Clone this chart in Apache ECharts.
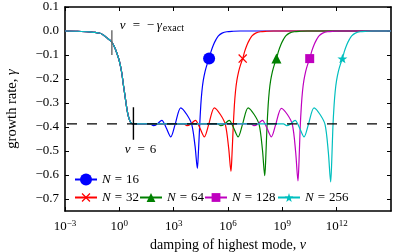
<!DOCTYPE html>
<html><head><meta charset="utf-8">
<script src="https://cdn.jsdelivr.net/npm/echarts@6/dist/echarts.min.js"></script>
<style>html,body{margin:0;padding:0;background:#fff}#c{width:407px;height:252px}</style>
</head><body><div id="c"></div>
<script>
// ---- data (log10 of nu, and gamma) ----
const headLogNu = [-3, -2.3, -1.619, -1.343, -1.066, -0.884, -0.696, -0.514, -0.42, -0.293, -0.144, 0.0, 0.133, 0.221, 0.315, 0.409, 0.497, 0.591, 0.685, 0.773];
const headGamma = [0, -0.001, -0.004, -0.0054, -0.0096, -0.0166, -0.0277, -0.0388, -0.0458, -0.0625, -0.0904, -0.125, -0.174, -0.223, -0.271, -0.320, -0.355, -0.376, -0.3855, -0.387];

const n16LogNu = [1.70, 1.878, 2.083, 2.343, 2.58, 2.84, 3.077, 3.392, 3.724, 4.0, 4.182, 4.309, 4.365, 4.431, 4.497, 4.558, 4.635, 4.735, 4.845, 4.956, 5.066, 5.193, 5.343, 5.470, 5.674, 5.934, 6.282, 6.669, 15];
const n16Gamma = [-0.387, -0.394, -0.388, -0.372, -0.402, -0.441, -0.390, -0.320, -0.348, -0.390, -0.480, -0.573, -0.506, -0.402, -0.310, -0.252, -0.206, -0.168, -0.139, -0.115, -0.085, -0.058, -0.035, -0.020, -0.009, -0.003, -0.001, 0, 0];

const n32LogNu = [3.555, 3.733, 3.938, 4.198, 4.435, 4.695, 4.932, 5.247, 5.579, 5.855, 6.037, 6.164, 6.22, 6.286, 6.352, 6.413, 6.49, 6.59, 6.70, 6.811, 6.921, 7.048, 7.198, 7.325, 7.529, 7.789, 8.137, 8.524, 15];
const n32Gamma = [-0.387, -0.394, -0.388, -0.372, -0.402, -0.441, -0.390, -0.320, -0.348, -0.390, -0.488, -0.585, -0.516, -0.402, -0.310, -0.252, -0.206, -0.168, -0.139, -0.115, -0.085, -0.058, -0.035, -0.020, -0.009, -0.003, -0.001, 0, 0];

const n64LogNu = [5.42, 5.598, 5.803, 6.063, 6.30, 6.56, 6.797, 7.112, 7.444, 7.72, 7.902, 8.029, 8.085, 8.151, 8.217, 8.278, 8.355, 8.455, 8.565, 8.676, 8.786, 8.913, 9.063, 9.19, 9.394, 9.654, 10.002, 10.389, 15];
const n64Gamma = [-0.387, -0.394, -0.388, -0.372, -0.402, -0.441, -0.390, -0.320, -0.348, -0.390, -0.495, -0.603, -0.530, -0.402, -0.310, -0.252, -0.206, -0.168, -0.139, -0.115, -0.085, -0.058, -0.035, -0.020, -0.009, -0.003, -0.001, 0, 0];

const n128LogNu = [7.255, 7.433, 7.638, 7.898, 8.135, 8.395, 8.632, 8.947, 9.279, 9.555, 9.737, 9.864, 9.92, 9.986, 10.052, 10.113, 10.19, 10.29, 10.40, 10.511, 10.621, 10.748, 10.898, 11.025, 11.229, 11.489, 11.837, 12.224, 15];
const n128Gamma = [-0.387, -0.394, -0.388, -0.372, -0.402, -0.441, -0.390, -0.322, -0.348, -0.390, -0.505, -0.625, -0.545, -0.402, -0.310, -0.252, -0.206, -0.168, -0.139, -0.115, -0.085, -0.058, -0.035, -0.020, -0.009, -0.003, -0.001, 0, 0];

const n256LogNu = [9.06, 9.238, 9.443, 9.703, 9.94, 10.20, 10.437, 10.752, 11.084, 11.36, 11.542, 11.669, 11.725, 11.791, 11.857, 11.918, 11.995, 12.095, 12.205, 12.316, 12.426, 12.553, 12.703, 12.83, 13.034, 13.294, 13.642, 14.029, 15];
const n256Gamma = [-0.387, -0.394, -0.388, -0.372, -0.402, -0.441, -0.390, -0.320, -0.348, -0.390, -0.507, -0.629, -0.548, -0.402, -0.310, -0.252, -0.206, -0.168, -0.139, -0.115, -0.085, -0.058, -0.035, -0.020, -0.009, -0.003, -0.001, 0, 0];

const markerIndexInTail = 19;
const seriesNames = ['N = 16', 'N = 32', 'N = 64', 'N = 128', 'N = 256'];
const seriesColors = ['#0000ff', '#ff0000', '#008000', '#bf00bf', '#00bfbf'];

const plateauGamma = -0.387;
const dashNu = [1e-3, 1e15];
const exactMarkNu = [0.387, 0.387];
const exactMarkGamma = [0.003, -0.1];
const sixMarkNu = [6, 6];
const sixMarkGamma = [-0.318, -0.453];

const xTicks = [1e-3, 1e0, 1e3, 1e6, 1e9, 1e12, 1e15];
const yTicks = [-0.7, -0.6, -0.5, -0.4, -0.3, -0.2, -0.1, 0.0, 0.1];

// ---- build ----
const FONT = 'Liberation Serif';
const tails = [[n16LogNu, n16Gamma], [n32LogNu, n32Gamma], [n64LogNu, n64Gamma], [n128LogNu, n128Gamma], [n256LogNu, n256Gamma]];
const symbols = [
  'circle',
  'path://M1,0 L5,4 L9,0 L10,1 L6,5 L10,9 L9,10 L5,6 L1,10 L0,9 L4,5 L0,1 Z',
  'triangle',
  'rect',
  'path://M10,0 L12.35,6.76 L19.51,6.91 L13.8,11.24 L15.88,18.09 L10,14 L4.12,18.09 L6.2,11.24 L0.49,6.91 L7.65,6.76 Z'
];
const symbolSizes = [12, 9, 10, 9, 10];

const T = (extra) => Object.assign({ fontFamily: FONT, fontSize: 13, color: '#000' }, extra || {});
const annRich = {
  n: T(),
  i: T({ fontStyle: 'italic', width: 8, align: 'left' }),
  g: T({ fontStyle: 'italic', width: 7, align: 'left' }),
  e: T({ width: 17, align: 'center' }),
  m: T({ width: 11, align: 'center' }),
  s: T({ fontSize: 10, align: 'left', padding: [7, 0, 0, 0] })
};
const legRich = {
  i: T({ fontStyle: 'italic' }),
  e: T({ padding: [0, 4, 0, 4] }),
  n: T()
};
const nameRichX = { n: T({ fontSize: 14 }), i: T({ fontSize: 14, fontStyle: 'italic' }) };
const nameRichY = { n: T({ fontSize: 14.5 }), i: T({ fontSize: 14.5, fontStyle: 'italic' }) };

function toPts(logs, gams) { return logs.map((l, i) => [Math.pow(10, l), gams[i]]); }
const head = toPts(headLogNu, headGamma);

const series = tails.map((t, k) => {
  const tail = toPts(t[0], t[1]);
  const mIdx = head.length + markerIndexInTail;
  return {
    name: seriesNames[k], type: 'line', data: head.concat(tail),
    smooth: 0.3, showSymbol: true, showAllSymbol: true,
    symbol: symbols[k], symbolKeepAspect: true,
    symbolSize: (v, p) => (p.dataIndex === mIdx ? symbolSizes[k] : 0),
    lineStyle: { color: seriesColors[k], width: 1.2 },
    itemStyle: { color: seriesColors[k] },
    z: 2 + k, silent: true, animation: false
  };
});

series.push({
  type: 'line', data: dashNu.map(n => [n, plateauGamma]), symbol: 'none', silent: true,
  lineStyle: { color: '#000', width: 1.3, type: [10, 10], dashOffset: 18 }, z: 10, animation: false
});
series.push({
  type: 'line', symbol: 'circle', symbolSize: 0, showSymbol: true, silent: true, animation: false, z: 11,
  lineStyle: { color: '#666', width: 1.4 }, itemStyle: { color: '#666' },
  data: [
    { value: [exactMarkNu[0], exactMarkGamma[0]],
      label: { show: true, position: 'right', distance: 8, offset: [0, -5],
        formatter: '{i|ν}{e|=}{m|−}{g|γ}{s|exact}', rich: annRich } },
    [exactMarkNu[1], exactMarkGamma[1]]
  ]
});
series.push({
  type: 'line', symbol: 'circle', symbolSize: 0, showSymbol: true, silent: true, animation: false, z: 11,
  lineStyle: { color: '#000', width: 1.4 }, itemStyle: { color: '#000' },
  data: [
    [sixMarkNu[0], sixMarkGamma[0]],
    { value: [sixMarkNu[1], sixMarkGamma[1]],
      label: { show: true, position: 'bottom', distance: 3, offset: [7, 0],
        formatter: '{i|ν}{e|=}{n|6}', rich: annRich } }
  ]
});

const legendFmt = name => '{i|N}{e|=}{n|' + name.split('= ')[1] + '}';
const legendLefts = [74, 74, 139, 204, 277];
const legendTops = [173, 191, 191, 191, 191];
const legendHeights = [15, 11, 11, 11, 11];
const legends = seriesNames.map((nm, k) => ({
  data: [nm], left: legendLefts[k], top: legendTops[k], padding: 0,
  itemWidth: 22, itemHeight: legendHeights[k], itemGap: 0, itemTextGap: 1,
  formatter: legendFmt, textStyle: T({ rich: legRich }), selectedMode: false
}));

const axisCommon = {
  axisLine: { show: true, onZero: false, lineStyle: { color: '#000', width: 1.6 } },
  axisTick: { show: true, inside: true, length: 4, lineStyle: { color: '#000', width: 1 } },
  splitLine: { show: false }
};

const option = {
  animation: false,
  grid: { left: 65, right: 16, top: 7, bottom: 41, containLabel: false, outerBoundsMode: 'none' },
  legend: legends,
  xAxis: [
    Object.assign({
      type: 'log', logBase: 10, min: 1e-3, max: 1e15, position: 'bottom',
      name: '{n|damping of highest mode, }{i|ν}', nameLocation: 'middle', nameGap: 27,
      nameTextStyle: T({ fontSize: 14, rich: nameRichX }),
      axisLabel: {
        customValues: xTicks, margin: 8, color: '#000',
        formatter: v => { const e = Math.round(Math.log10(v)); return '{b|10}{s|' + String(e).replace('-', '−') + '}'; },
        rich: { b: T(), s: T({ fontSize: 9, padding: [0, 0, 7, 0] }) }
      }
    }, axisCommon, { axisTick: Object.assign({}, axisCommon.axisTick, { customValues: xTicks }) }),
    Object.assign({
      type: 'log', logBase: 10, min: 1e-3, max: 1e15, position: 'top',
      axisLabel: { show: false }
    }, axisCommon, { axisTick: Object.assign({}, axisCommon.axisTick, { customValues: xTicks }) })
  ],
  yAxis: [
    Object.assign({
      type: 'value', min: -0.75, max: 0.1, position: 'left',
      name: '{n|growth rate, }{i|γ}', nameLocation: 'middle', nameGap: 45,
      nameTextStyle: T({ fontSize: 14.5, rich: nameRichY }),
      axisLabel: { customValues: yTicks, margin: 6, fontFamily: FONT, fontSize: 13, color: '#000',
        formatter: v => v.toFixed(1).replace('-', '−') }
    }, axisCommon, { axisTick: Object.assign({}, axisCommon.axisTick, { customValues: yTicks }) }),
    Object.assign({
      type: 'value', min: -0.75, max: 0.1, position: 'right',
      axisLabel: { show: false }
    }, axisCommon, { axisTick: Object.assign({}, axisCommon.axisTick, { customValues: yTicks }) })
  ],
  series: series
};

const chart = echarts.init(document.getElementById('c'), null, { renderer: 'canvas' });
chart.setOption(option);
</script>
</body></html>
